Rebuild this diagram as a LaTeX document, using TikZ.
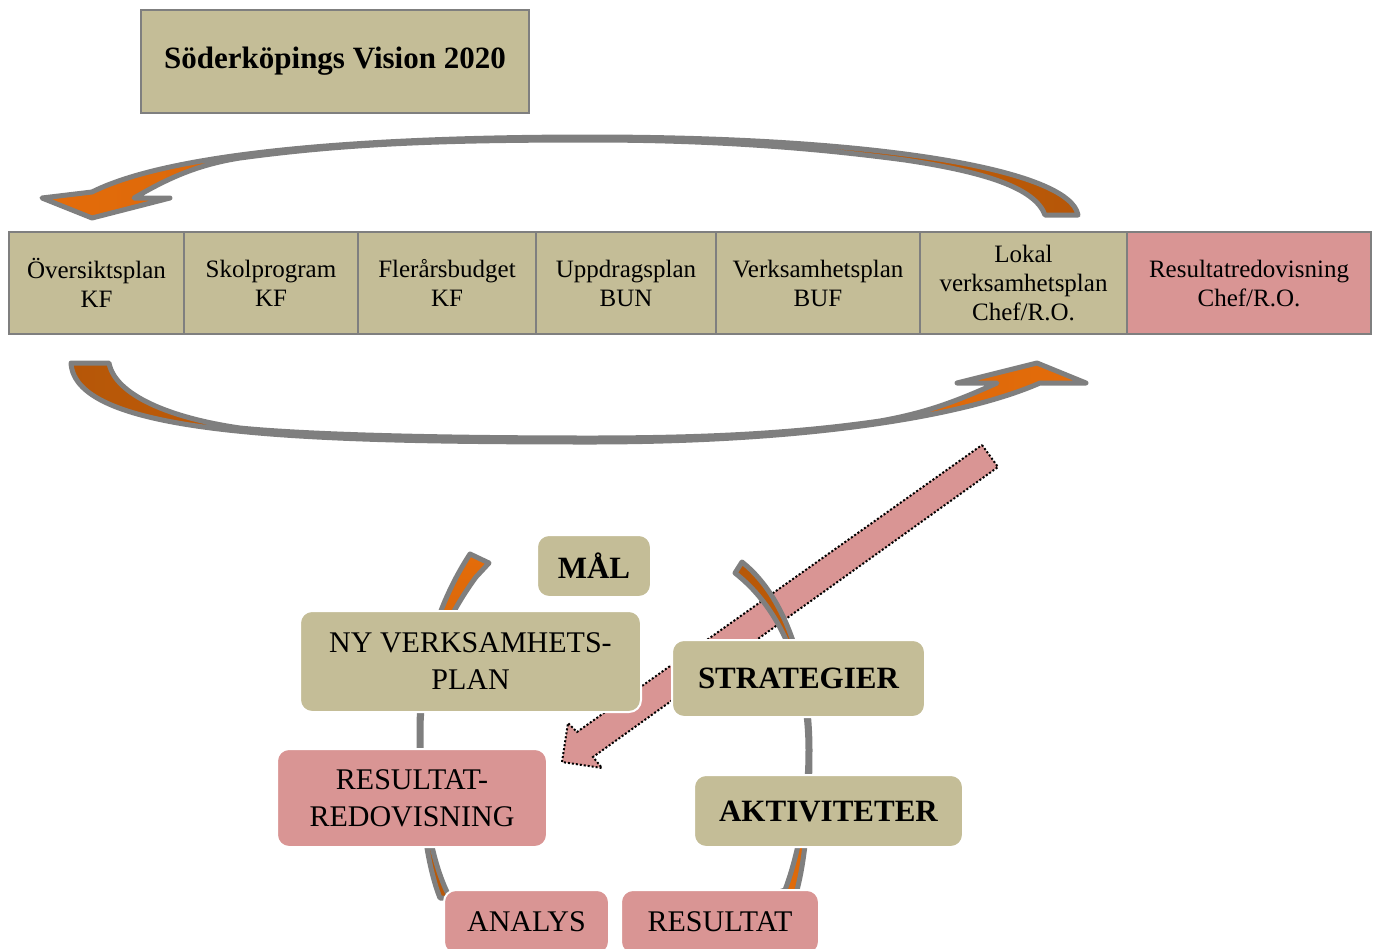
\documentclass[tikz,border=0pt]{standalone}
\usepackage{fontspec}
\setmainfont{Liberation Serif}
\definecolor{sand}{HTML}{C4BD97}
\definecolor{rosa}{HTML}{D99594}
\definecolor{grau}{HTML}{7F7F7F}
\definecolor{orl}{HTML}{E46C0A}
\definecolor{ord}{HTML}{B65708}
\begin{document}
\begin{tikzpicture}[x=.5pt, y=-.5pt,
  cell/.style={draw=grau, line width=1pt, minimum height=51pt, inner sep=1pt, align=center, font=\fontsize{12.5}{14.5}\selectfont},
  pil/.style={draw=grau, line width=2.5pt, line join=round},
  rbox/.style={draw=white, line width=1pt, rounded corners=6pt, fill=sand, align=center, inner sep=2pt, font=\fontsize{15}{18.5}\selectfont},
  bold/.style={font=\fontsize{15.5}{18.5}\selectfont\bfseries}]
\useasboundingbox (0,0) rectangle (1373,949);

\node[cell, fill=sand, minimum width=194pt, minimum height=51.5pt, font=\fontsize{15.5}{18}\selectfont\bfseries] (vision) at (335,61) {Söderköpings Vision 2020};

\foreach \xa/\xb/\nm/\col/\txt in {9/184/osp/sand/{Översiktsplan\\KF},
  184/358/skp/sand/{Skolprogram\\KF},
  358/536/flb/sand/{Flerårsbudget\\KF},
  536/716/upp/sand/{Uppdragsplan\\BUN},
  716/920/vsp/sand/{Verksamhetsplan\\BUF},
  920/1127/lvp/sand/{Lokal\\verksamhetsplan\\Chef/R.O.},
  1127/1371/red/rosa/{Resultatredovisning\\Chef/R.O.}}
{
    \node[cell, fill=\col, minimum width={(\xb-\xa)*.5pt}] (\nm) at ({(\xa+\xb)/2},283) {\txt};
}

\path[pil, left color=orl, right color=ord] (1078,215) .. controls (1070,170) and (880,137) .. (590,137)
  .. controls (400,137) and (180,148) .. (92,192) -- (42,198) -- (92,218) -- (170,198) -- (134,198)
  .. controls (165,180) and (195,165) .. (240,158) .. controls (350,143) and (450,140) .. (590,140)
  .. controls (700,140) and (800,146) .. (905,160) .. controls (985,172) and (1035,188) .. (1045,215) -- cycle;
\path[pil, left color=ord, right color=orl] (71,363) .. controls (75,435) and (300,442) .. (590,442)
  .. controls (800,442) and (960,418) .. (1040,383) -- (1086,383) -- (1037,363) -- (957,383) -- (997,383)
  .. controls (955,402) and (925,413) .. (880,421) .. controls (790,434) and (700,438) .. (590,438)
  .. controls (420,438) and (300,434) .. (240,428) .. controls (170,418) and (115,395) .. (109,363) -- cycle;

\draw[densely dotted, line width=1pt, fill=rosa] (982,445) -- (998,467) -- (593,757) -- (602,768) -- (562,762) -- (568,723) -- (577,732) -- cycle;

\path[pil, top color=orl, bottom color=ord] (440,898) .. controls (425,860) and (419,800) .. (419,730)
  .. controls (419,660) and (440,600) .. (470,554) -- (489,563) -- (476,577)
  .. controls (448,615) and (421,670) .. (421,730) .. controls (421,800) and (430,860) .. (450,898) -- cycle;
\path[pil, top color=ord, bottom color=orl] (742,562) .. controls (790,600) and (810,680) .. (810,750)
  .. controls (810,810) and (805,860) .. (797,890) -- (805,895) -- (790,915) -- (770,895) -- (785,890)
  .. controls (800,850) and (808,800) .. (808,750) .. controls (808,680) and (785,612) .. (735,573) -- cycle;

\node[rbox, bold, minimum width=57pt, minimum height=31pt] (mal) at (594,566) {MÅL};
\node[rbox, minimum width=170.5pt, minimum height=50.5pt] (nyvp) at (470.5,661.5) {NY VERKSAMHETS-\\PLAN};
\node[rbox, bold, minimum width=126.5pt, minimum height=38.5pt] (strat) at (798.5,678.5) {STRATEGIER};
\node[rbox, fill=rosa, minimum width=135pt, minimum height=49pt] (resred) at (412,798) {RESULTAT-\\REDOVISNING};
\node[rbox, bold, minimum width=134.5pt, minimum height=36pt] (akt) at (828.5,811) {AKTIVITETER};
\node[rbox, fill=rosa, minimum width=82.5pt, minimum height=32pt] (analys) at (526.5,922) {ANALYS};
\node[rbox, fill=rosa, minimum width=99pt, minimum height=32pt] (res) at (720,922) {RESULTAT};

\end{tikzpicture}
\end{document}
